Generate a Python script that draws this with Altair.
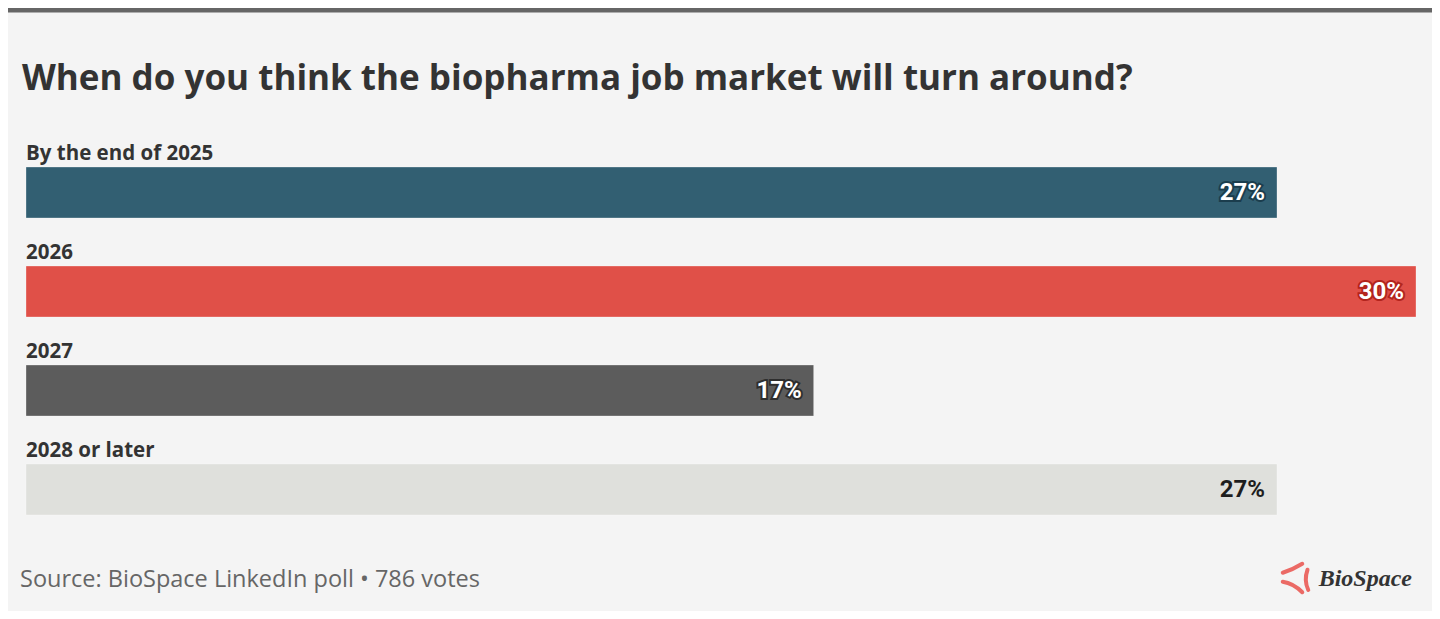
import altair as alt
import pandas as pd

categories = ["By the end of 2025", "2026", "2027", "2028 or later"]
values = [27, 30, 17, 27]
labels = ["27%", "30%", "17%", "27%"]

bar_colors = ["#325f72", "#e05048", "#5c5c5c", "#dfe0dc"]
halo_colors = ["#1b3d4d", "#b3241d", "#2e2e2e", "#dfe0dc"]
text_colors = ["#ffffff", "#ffffff", "#ffffff", "#1e1e1e"]

title_text = "When do you think the biopharma job market will turn around?"
source_text = "Source: BioSpace LinkedIn poll \u2022 786 votes"
logo_text = "BioSpace"

df = pd.DataFrame({"cat": categories, "val": values, "lab": labels, "zero": [0] * len(categories)})

W, H = 1424, 603
FONT = "Open Sans"

xscale = alt.Scale(domain=[0, 30], range=[18, 1408], nice=False, zero=True)
y = alt.Y("cat:N", sort=categories,
          scale=alt.Scale(domain=categories, range=[135, 531], paddingInner=0.485, paddingOuter=0.2425),
          axis=None)

base = alt.Chart(df)

bars = base.mark_bar(stroke="#ffffff", strokeOpacity=0.3, strokeWidth=1).encode(
    x=alt.X("val:Q", scale=xscale, axis=None), y=y,
    color=alt.Color("cat:N", scale=alt.Scale(domain=categories, range=bar_colors), legend=None),
)

cat_labels = base.mark_text(align="left", baseline="alphabetic", dy=-32.5, font=FONT,
                            fontWeight="bold", fontSize=20.5, color="#333333").encode(
    x=alt.X("zero:Q"), y=y, text="cat:N"
)

halo = base.mark_text(align="right", baseline="middle", dx=-12, font="Roboto", fontWeight="bold",
                      fontSize=24, strokeWidth=4).encode(
    x=alt.X("val:Q"), y=y, text="lab:N",
    stroke=alt.Stroke("cat:N", scale=alt.Scale(domain=categories, range=halo_colors), legend=None),
)

val_text = base.mark_text(align="right", baseline="middle", dx=-12, font="Roboto", fontWeight="bold",
                          fontSize=24).encode(
    x=alt.X("val:Q"), y=y, text="lab:N",
    fill=alt.Fill("cat:N", scale=alt.Scale(domain=categories, range=text_colors), legend=None),
)

deco = pd.DataFrame({"t": [title_text]})

top_bar = alt.Chart(deco).mark_rule(color="#666666", strokeWidth=5).encode(
    x=alt.value(0), x2=alt.value(W), y=alt.value(2)
)

title = alt.Chart(deco).mark_text(
    align="left", baseline="alphabetic", font=FONT, fontWeight="bold", fontSize=35, color="#333333"
).encode(x=alt.value(14), y=alt.value(82), text="t:N")

footer = alt.Chart(pd.DataFrame({"t": [source_text]})).mark_text(
    align="left", baseline="alphabetic", font=FONT, fontSize=23.5, color="#666666"
).encode(x=alt.value(12), y=alt.value(579), text="t:N")

logo = alt.Chart(pd.DataFrame({"t": [logo_text]})).mark_text(
    align="right", baseline="alphabetic", font="Liberation Serif", fontStyle="italic",
    fontWeight="bold", fontSize=24, color="#333333"
).encode(x=alt.value(1404), y=alt.value(578), text="t:N")

swirl = ("M -0.95 -0.35 Q -0.3 -0.55 0.35 -0.95 "
         "M 0.7 -0.55 Q 0.45 0.15 0.75 0.8 "
         "M 0.35 0.95 Q -0.25 0.35 -0.95 0.25")
logo_mark = alt.Chart(deco).mark_point(
    shape=swirl, filled=False, stroke="#e8302a", strokeWidth=4, size=900, strokeCap="round"
).encode(x=alt.value(1289), y=alt.value(570))

chart = alt.layer(bars, cat_labels, halo, val_text, top_bar, title, footer, logo, logo_mark).properties(
    width=W, height=H,
    autosize=alt.AutoSizeParams(type="none"),
    padding=0,
    background="#f4f4f4",
).configure_view(strokeWidth=0)

chart.save("out.html", embed_options={"renderer": "svg", "actions": False})
